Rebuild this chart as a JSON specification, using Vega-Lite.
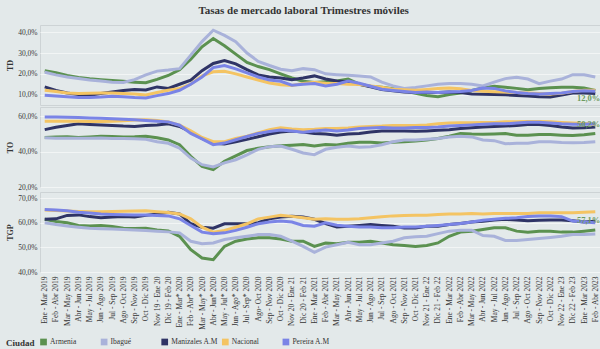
{
"$schema":"https://vega.github.io/schema/vega-lite/v6.json",
"background":"#e3e9ea",
"padding":{"left":5,"top":4,"right":0,"bottom":0},
"title":{"text":"Tasas de mercado laboral Trimestres móviles","font":"Liberation Serif","fontSize":11,"fontWeight":"bold","color":"#333333","anchor":"middle","offset":8},
"datasets":{
"leg":[{"c":"Armenia","g":"Ciudad"},{"c":"Ibagué","g":"Ciudad"},{"c":"Manizales A.M","g":"Ciudad"},{"c":"Nacional","g":"Ciudad"},{"c":"Pereira A.M","g":"Ciudad"}],
"lab":[{"m":"TD","p":"Feb - Abr 2023","v":12.0,"t":"12,0%"},{"m":"TO","p":"Feb - Abr 2023","v":50.2,"t":"50,2%"},{"m":"TGP","p":"Feb - Abr 2023","v":57.1,"t":"57,1%"}],
"d":[
{"m":"TD","c":"Armenia","p":"Ene - Mar 2019","v":21.5},{"m":"TD","c":"Armenia","p":"Feb - Abr 2019","v":20.5},{"m":"TD","c":"Armenia","p":"Mar - May 2019","v":19.2},{"m":"TD","c":"Armenia","p":"Abr - Jun 2019","v":18.2},{"m":"TD","c":"Armenia","p":"May - Jul 2019","v":17.6},{"m":"TD","c":"Armenia","p":"Jun - Ago 2019","v":17.2},{"m":"TD","c":"Armenia","p":"Jul - Sep 2019","v":16.8},{"m":"TD","c":"Armenia","p":"Ago - Oct 2019","v":16.4},{"m":"TD","c":"Armenia","p":"Sep - Nov 2019","v":16.0},{"m":"TD","c":"Armenia","p":"Oct - Dic 2019","v":15.7},
{"m":"TD","c":"Armenia","p":"Nov 19 - Ene 20","v":17.3},{"m":"TD","c":"Armenia","p":"Dic 19 - Feb 20","v":19.2},{"m":"TD","c":"Armenia","p":"Ene - Mar* 2020","v":22.0},{"m":"TD","c":"Armenia","p":"Feb - Abr* 2020","v":27.0},{"m":"TD","c":"Armenia","p":"Mar - May* 2020","v":33.0},{"m":"TD","c":"Armenia","p":"Abr - Jun* 2020","v":37.0},{"m":"TD","c":"Armenia","p":"May - Jul* 2020","v":33.5},{"m":"TD","c":"Armenia","p":"Jun - Ago* 2020","v":29.5},{"m":"TD","c":"Armenia","p":"Jul - Sep* 2020","v":25.5},{"m":"TD","c":"Armenia","p":"Ago- Oct 2020","v":23.5},
{"m":"TD","c":"Armenia","p":"Sep - Nov 2020","v":22.0},{"m":"TD","c":"Armenia","p":"Oct - Dic 2020","v":20.0},{"m":"TD","c":"Armenia","p":"Nov 20 - Ene 21","v":18.0},{"m":"TD","c":"Armenia","p":"Dic 20 - Feb 21","v":16.4},{"m":"TD","c":"Armenia","p":"Ene - Mar 2021","v":15.8},{"m":"TD","c":"Armenia","p":"Feb - Abr 2021","v":16.2},{"m":"TD","c":"Armenia","p":"Mar - May 2021","v":16.6},{"m":"TD","c":"Armenia","p":"Abr - Jun 2021","v":17.5},{"m":"TD","c":"Armenia","p":"May - Jul 2021","v":15.0},{"m":"TD","c":"Armenia","p":"Jun - Ago 2021","v":14.0},
{"m":"TD","c":"Armenia","p":"Jul - Sep 2021","v":13.5},{"m":"TD","c":"Armenia","p":"Ago - Oct 2021","v":12.8},{"m":"TD","c":"Armenia","p":"Sep - Nov 2021","v":11.8},{"m":"TD","c":"Armenia","p":"Oct - Dic 2021","v":10.6},{"m":"TD","c":"Armenia","p":"Nov 21 - Ene 22","v":9.6},{"m":"TD","c":"Armenia","p":"Dic 21 - Feb 22","v":9.0},{"m":"TD","c":"Armenia","p":"Ene - Mar 2022","v":10.0},{"m":"TD","c":"Armenia","p":"Feb - Abr 2022","v":10.8},{"m":"TD","c":"Armenia","p":"Mar - May 2022","v":12.0},{"m":"TD","c":"Armenia","p":"Abr - Jun 2022","v":13.2},
{"m":"TD","c":"Armenia","p":"May - Jul 2022","v":14.0},{"m":"TD","c":"Armenia","p":"Jun - Ago 2022","v":13.5},{"m":"TD","c":"Armenia","p":"Jul - Sep 2022","v":13.0},{"m":"TD","c":"Armenia","p":"Ago - Oct 2022","v":12.3},{"m":"TD","c":"Armenia","p":"Sep - Nov 2022","v":12.9},{"m":"TD","c":"Armenia","p":"Oct - Dic 2022","v":13.3},{"m":"TD","c":"Armenia","p":"Nov 22 - Ene 23","v":13.6},{"m":"TD","c":"Armenia","p":"Dic 22 - Feb 23","v":13.5},{"m":"TD","c":"Armenia","p":"Ene - Mar 2023","v":13.2},{"m":"TD","c":"Armenia","p":"Feb - Abr 2023","v":12.0},
{"m":"TD","c":"Ibagué","p":"Ene - Mar 2019","v":20.8},{"m":"TD","c":"Ibagué","p":"Feb - Abr 2019","v":19.5},{"m":"TD","c":"Ibagué","p":"Mar - May 2019","v":18.5},{"m":"TD","c":"Ibagué","p":"Abr - Jun 2019","v":17.8},{"m":"TD","c":"Ibagué","p":"May - Jul 2019","v":17.0},{"m":"TD","c":"Ibagué","p":"Jun - Ago 2019","v":16.5},{"m":"TD","c":"Ibagué","p":"Jul - Sep 2019","v":16.0},{"m":"TD","c":"Ibagué","p":"Ago - Oct 2019","v":15.8},{"m":"TD","c":"Ibagué","p":"Sep - Nov 2019","v":17.2},{"m":"TD","c":"Ibagué","p":"Oct - Dic 2019","v":19.5},
{"m":"TD","c":"Ibagué","p":"Nov 19 - Ene 20","v":21.3},{"m":"TD","c":"Ibagué","p":"Dic 19 - Feb 20","v":21.8},{"m":"TD","c":"Ibagué","p":"Ene - Mar* 2020","v":22.5},{"m":"TD","c":"Ibagué","p":"Feb - Abr* 2020","v":29.0},{"m":"TD","c":"Ibagué","p":"Mar - May* 2020","v":35.5},{"m":"TD","c":"Ibagué","p":"Abr - Jun* 2020","v":41.0},{"m":"TD","c":"Ibagué","p":"May - Jul* 2020","v":38.5},{"m":"TD","c":"Ibagué","p":"Jun - Ago* 2020","v":35.5},{"m":"TD","c":"Ibagué","p":"Jul - Sep* 2020","v":30.0},{"m":"TD","c":"Ibagué","p":"Ago- Oct 2020","v":26.0},
{"m":"TD","c":"Ibagué","p":"Sep - Nov 2020","v":24.0},{"m":"TD","c":"Ibagué","p":"Oct - Dic 2020","v":22.2},{"m":"TD","c":"Ibagué","p":"Nov 20 - Ene 21","v":21.5},{"m":"TD","c":"Ibagué","p":"Dic 20 - Feb 21","v":22.5},{"m":"TD","c":"Ibagué","p":"Ene - Mar 2021","v":22.0},{"m":"TD","c":"Ibagué","p":"Feb - Abr 2021","v":20.0},{"m":"TD","c":"Ibagué","p":"Mar - May 2021","v":19.6},{"m":"TD","c":"Ibagué","p":"Abr - Jun 2021","v":19.3},{"m":"TD","c":"Ibagué","p":"May - Jul 2021","v":19.0},{"m":"TD","c":"Ibagué","p":"Jun - Ago 2021","v":18.5},
{"m":"TD","c":"Ibagué","p":"Jul - Sep 2021","v":16.0},{"m":"TD","c":"Ibagué","p":"Ago - Oct 2021","v":14.2},{"m":"TD","c":"Ibagué","p":"Sep - Nov 2021","v":13.0},{"m":"TD","c":"Ibagué","p":"Oct - Dic 2021","v":13.4},{"m":"TD","c":"Ibagué","p":"Nov 21 - Ene 22","v":14.2},{"m":"TD","c":"Ibagué","p":"Dic 21 - Feb 22","v":15.0},{"m":"TD","c":"Ibagué","p":"Ene - Mar 2022","v":15.3},{"m":"TD","c":"Ibagué","p":"Feb - Abr 2022","v":15.3},{"m":"TD","c":"Ibagué","p":"Mar - May 2022","v":15.0},{"m":"TD","c":"Ibagué","p":"Abr - Jun 2022","v":14.2},
{"m":"TD","c":"Ibagué","p":"May - Jul 2022","v":16.0},{"m":"TD","c":"Ibagué","p":"Jun - Ago 2022","v":17.7},{"m":"TD","c":"Ibagué","p":"Jul - Sep 2022","v":18.3},{"m":"TD","c":"Ibagué","p":"Ago - Oct 2022","v":17.5},{"m":"TD","c":"Ibagué","p":"Sep - Nov 2022","v":15.3},{"m":"TD","c":"Ibagué","p":"Oct - Dic 2022","v":16.5},{"m":"TD","c":"Ibagué","p":"Nov 22 - Ene 23","v":17.5},{"m":"TD","c":"Ibagué","p":"Dic 22 - Feb 23","v":19.6},{"m":"TD","c":"Ibagué","p":"Ene - Mar 2023","v":19.6},{"m":"TD","c":"Ibagué","p":"Feb - Abr 2023","v":18.5},
{"m":"TD","c":"Manizales A.M","p":"Ene - Mar 2019","v":13.7},{"m":"TD","c":"Manizales A.M","p":"Feb - Abr 2019","v":12.0},{"m":"TD","c":"Manizales A.M","p":"Mar - May 2019","v":10.8},{"m":"TD","c":"Manizales A.M","p":"Abr - Jun 2019","v":10.0},{"m":"TD","c":"Manizales A.M","p":"May - Jul 2019","v":9.7},{"m":"TD","c":"Manizales A.M","p":"Jun - Ago 2019","v":10.5},{"m":"TD","c":"Manizales A.M","p":"Jul - Sep 2019","v":11.3},{"m":"TD","c":"Manizales A.M","p":"Ago - Oct 2019","v":12.0},{"m":"TD","c":"Manizales A.M","p":"Sep - Nov 2019","v":12.5},{"m":"TD","c":"Manizales A.M","p":"Oct - Dic 2019","v":12.2},
{"m":"TD","c":"Manizales A.M","p":"Nov 19 - Ene 20","v":13.7},{"m":"TD","c":"Manizales A.M","p":"Dic 19 - Feb 20","v":13.0},{"m":"TD","c":"Manizales A.M","p":"Ene - Mar* 2020","v":15.0},{"m":"TD","c":"Manizales A.M","p":"Feb - Abr* 2020","v":17.0},{"m":"TD","c":"Manizales A.M","p":"Mar - May* 2020","v":21.5},{"m":"TD","c":"Manizales A.M","p":"Abr - Jun* 2020","v":25.0},{"m":"TD","c":"Manizales A.M","p":"May - Jul* 2020","v":26.4},{"m":"TD","c":"Manizales A.M","p":"Jun - Ago* 2020","v":24.8},{"m":"TD","c":"Manizales A.M","p":"Jul - Sep* 2020","v":22.0},{"m":"TD","c":"Manizales A.M","p":"Ago- Oct 2020","v":19.5},
{"m":"TD","c":"Manizales A.M","p":"Sep - Nov 2020","v":18.5},{"m":"TD","c":"Manizales A.M","p":"Oct - Dic 2020","v":18.0},{"m":"TD","c":"Manizales A.M","p":"Nov 20 - Ene 21","v":17.2},{"m":"TD","c":"Manizales A.M","p":"Dic 20 - Feb 21","v":18.0},{"m":"TD","c":"Manizales A.M","p":"Ene - Mar 2021","v":19.0},{"m":"TD","c":"Manizales A.M","p":"Feb - Abr 2021","v":17.5},{"m":"TD","c":"Manizales A.M","p":"Mar - May 2021","v":16.6},{"m":"TD","c":"Manizales A.M","p":"Abr - Jun 2021","v":16.2},{"m":"TD","c":"Manizales A.M","p":"May - Jul 2021","v":15.0},{"m":"TD","c":"Manizales A.M","p":"Jun - Ago 2021","v":13.8},
{"m":"TD","c":"Manizales A.M","p":"Jul - Sep 2021","v":12.5},{"m":"TD","c":"Manizales A.M","p":"Ago - Oct 2021","v":11.8},{"m":"TD","c":"Manizales A.M","p":"Sep - Nov 2021","v":11.2},{"m":"TD","c":"Manizales A.M","p":"Oct - Dic 2021","v":11.0},{"m":"TD","c":"Manizales A.M","p":"Nov 21 - Ene 22","v":11.0},{"m":"TD","c":"Manizales A.M","p":"Dic 21 - Feb 22","v":11.0},{"m":"TD","c":"Manizales A.M","p":"Ene - Mar 2022","v":11.2},{"m":"TD","c":"Manizales A.M","p":"Feb - Abr 2022","v":11.0},{"m":"TD","c":"Manizales A.M","p":"Mar - May 2022","v":10.3},{"m":"TD","c":"Manizales A.M","p":"Abr - Jun 2022","v":10.2},
{"m":"TD","c":"Manizales A.M","p":"May - Jul 2022","v":10.0},{"m":"TD","c":"Manizales A.M","p":"Jun - Ago 2022","v":9.9},{"m":"TD","c":"Manizales A.M","p":"Jul - Sep 2022","v":9.6},{"m":"TD","c":"Manizales A.M","p":"Ago - Oct 2022","v":9.3},{"m":"TD","c":"Manizales A.M","p":"Sep - Nov 2022","v":9.0},{"m":"TD","c":"Manizales A.M","p":"Oct - Dic 2022","v":8.9},{"m":"TD","c":"Manizales A.M","p":"Nov 22 - Ene 23","v":9.8},{"m":"TD","c":"Manizales A.M","p":"Dic 22 - Feb 23","v":10.8},{"m":"TD","c":"Manizales A.M","p":"Ene - Mar 2023","v":10.8},{"m":"TD","c":"Manizales A.M","p":"Feb - Abr 2023","v":10.5},
{"m":"TD","c":"Nacional","p":"Ene - Mar 2019","v":12.1},{"m":"TD","c":"Nacional","p":"Feb - Abr 2019","v":11.5},{"m":"TD","c":"Nacional","p":"Mar - May 2019","v":10.8},{"m":"TD","c":"Nacional","p":"Abr - Jun 2019","v":10.5},{"m":"TD","c":"Nacional","p":"May - Jul 2019","v":10.6},{"m":"TD","c":"Nacional","p":"Jun - Ago 2019","v":10.8},{"m":"TD","c":"Nacional","p":"Jul - Sep 2019","v":10.8},{"m":"TD","c":"Nacional","p":"Ago - Oct 2019","v":10.5},{"m":"TD","c":"Nacional","p":"Sep - Nov 2019","v":10.3},{"m":"TD","c":"Nacional","p":"Oct - Dic 2019","v":9.8},
{"m":"TD","c":"Nacional","p":"Nov 19 - Ene 20","v":11.0},{"m":"TD","c":"Nacional","p":"Dic 19 - Feb 20","v":12.1},{"m":"TD","c":"Nacional","p":"Ene - Mar* 2020","v":13.0},{"m":"TD","c":"Nacional","p":"Feb - Abr* 2020","v":15.0},{"m":"TD","c":"Nacional","p":"Mar - May* 2020","v":19.0},{"m":"TD","c":"Nacional","p":"Abr - Jun* 2020","v":21.0},{"m":"TD","c":"Nacional","p":"May - Jul* 2020","v":21.2},{"m":"TD","c":"Nacional","p":"Jun - Ago* 2020","v":20.0},{"m":"TD","c":"Nacional","p":"Jul - Sep* 2020","v":18.5},{"m":"TD","c":"Nacional","p":"Ago- Oct 2020","v":17.0},
{"m":"TD","c":"Nacional","p":"Sep - Nov 2020","v":15.6},{"m":"TD","c":"Nacional","p":"Oct - Dic 2020","v":14.8},{"m":"TD","c":"Nacional","p":"Nov 20 - Ene 21","v":14.4},{"m":"TD","c":"Nacional","p":"Dic 20 - Feb 21","v":15.3},{"m":"TD","c":"Nacional","p":"Ene - Mar 2021","v":16.0},{"m":"TD","c":"Nacional","p":"Feb - Abr 2021","v":15.5},{"m":"TD","c":"Nacional","p":"Mar - May 2021","v":15.3},{"m":"TD","c":"Nacional","p":"Abr - Jun 2021","v":15.0},{"m":"TD","c":"Nacional","p":"May - Jul 2021","v":14.9},{"m":"TD","c":"Nacional","p":"Jun - Ago 2021","v":14.2},
{"m":"TD","c":"Nacional","p":"Jul - Sep 2021","v":13.5},{"m":"TD","c":"Nacional","p":"Ago - Oct 2021","v":12.6},{"m":"TD","c":"Nacional","p":"Sep - Nov 2021","v":12.3},{"m":"TD","c":"Nacional","p":"Oct - Dic 2021","v":12.1},{"m":"TD","c":"Nacional","p":"Nov 21 - Ene 22","v":12.5},{"m":"TD","c":"Nacional","p":"Dic 21 - Feb 22","v":13.0},{"m":"TD","c":"Nacional","p":"Ene - Mar 2022","v":13.2},{"m":"TD","c":"Nacional","p":"Feb - Abr 2022","v":12.8},{"m":"TD","c":"Nacional","p":"Mar - May 2022","v":12.0},{"m":"TD","c":"Nacional","p":"Abr - Jun 2022","v":11.6},
{"m":"TD","c":"Nacional","p":"May - Jul 2022","v":11.4},{"m":"TD","c":"Nacional","p":"Jun - Ago 2022","v":11.3},{"m":"TD","c":"Nacional","p":"Jul - Sep 2022","v":11.0},{"m":"TD","c":"Nacional","p":"Ago - Oct 2022","v":10.8},{"m":"TD","c":"Nacional","p":"Sep - Nov 2022","v":10.5},{"m":"TD","c":"Nacional","p":"Oct - Dic 2022","v":10.3},{"m":"TD","c":"Nacional","p":"Nov 22 - Ene 23","v":10.7},{"m":"TD","c":"Nacional","p":"Dic 22 - Feb 23","v":11.5},{"m":"TD","c":"Nacional","p":"Ene - Mar 2023","v":12.1},{"m":"TD","c":"Nacional","p":"Feb - Abr 2023","v":12.1},
{"m":"TD","c":"Pereira A.M","p":"Ene - Mar 2019","v":9.7},{"m":"TD","c":"Pereira A.M","p":"Feb - Abr 2019","v":9.3},{"m":"TD","c":"Pereira A.M","p":"Mar - May 2019","v":9.0},{"m":"TD","c":"Pereira A.M","p":"Abr - Jun 2019","v":8.6},{"m":"TD","c":"Pereira A.M","p":"May - Jul 2019","v":8.6},{"m":"TD","c":"Pereira A.M","p":"Jun - Ago 2019","v":8.8},{"m":"TD","c":"Pereira A.M","p":"Jul - Sep 2019","v":9.2},{"m":"TD","c":"Pereira A.M","p":"Ago - Oct 2019","v":9.0},{"m":"TD","c":"Pereira A.M","p":"Sep - Nov 2019","v":8.6},{"m":"TD","c":"Pereira A.M","p":"Oct - Dic 2019","v":8.4},
{"m":"TD","c":"Pereira A.M","p":"Nov 19 - Ene 20","v":9.5},{"m":"TD","c":"Pereira A.M","p":"Dic 19 - Feb 20","v":10.5},{"m":"TD","c":"Pereira A.M","p":"Ene - Mar* 2020","v":12.1},{"m":"TD","c":"Pereira A.M","p":"Feb - Abr* 2020","v":15.0},{"m":"TD","c":"Pereira A.M","p":"Mar - May* 2020","v":18.5},{"m":"TD","c":"Pereira A.M","p":"Abr - Jun* 2020","v":23.0},{"m":"TD","c":"Pereira A.M","p":"May - Jul* 2020","v":24.0},{"m":"TD","c":"Pereira A.M","p":"Jun - Ago* 2020","v":22.4},{"m":"TD","c":"Pereira A.M","p":"Jul - Sep* 2020","v":20.5},{"m":"TD","c":"Pereira A.M","p":"Ago- Oct 2020","v":18.5},
{"m":"TD","c":"Pereira A.M","p":"Sep - Nov 2020","v":17.0},{"m":"TD","c":"Pereira A.M","p":"Oct - Dic 2020","v":16.4},{"m":"TD","c":"Pereira A.M","p":"Nov 20 - Ene 21","v":14.5},{"m":"TD","c":"Pereira A.M","p":"Dic 20 - Feb 21","v":15.0},{"m":"TD","c":"Pereira A.M","p":"Ene - Mar 2021","v":15.3},{"m":"TD","c":"Pereira A.M","p":"Feb - Abr 2021","v":14.2},{"m":"TD","c":"Pereira A.M","p":"Mar - May 2021","v":15.0},{"m":"TD","c":"Pereira A.M","p":"Abr - Jun 2021","v":16.5},{"m":"TD","c":"Pereira A.M","p":"May - Jul 2021","v":15.5},{"m":"TD","c":"Pereira A.M","p":"Jun - Ago 2021","v":14.0},
{"m":"TD","c":"Pereira A.M","p":"Jul - Sep 2021","v":12.6},{"m":"TD","c":"Pereira A.M","p":"Ago - Oct 2021","v":12.0},{"m":"TD","c":"Pereira A.M","p":"Sep - Nov 2021","v":11.5},{"m":"TD","c":"Pereira A.M","p":"Oct - Dic 2021","v":11.0},{"m":"TD","c":"Pereira A.M","p":"Nov 21 - Ene 22","v":11.2},{"m":"TD","c":"Pereira A.M","p":"Dic 21 - Feb 22","v":11.0},{"m":"TD","c":"Pereira A.M","p":"Ene - Mar 2022","v":11.2},{"m":"TD","c":"Pereira A.M","p":"Feb - Abr 2022","v":11.5},{"m":"TD","c":"Pereira A.M","p":"Mar - May 2022","v":12.0},{"m":"TD","c":"Pereira A.M","p":"Abr - Jun 2022","v":13.2},
{"m":"TD","c":"Pereira A.M","p":"May - Jul 2022","v":13.0},{"m":"TD","c":"Pereira A.M","p":"Jun - Ago 2022","v":11.8},{"m":"TD","c":"Pereira A.M","p":"Jul - Sep 2022","v":11.0},{"m":"TD","c":"Pereira A.M","p":"Ago - Oct 2022","v":10.5},{"m":"TD","c":"Pereira A.M","p":"Sep - Nov 2022","v":10.3},{"m":"TD","c":"Pereira A.M","p":"Oct - Dic 2022","v":10.5},{"m":"TD","c":"Pereira A.M","p":"Nov 22 - Ene 23","v":10.8},{"m":"TD","c":"Pereira A.M","p":"Dic 22 - Feb 23","v":11.5},{"m":"TD","c":"Pereira A.M","p":"Ene - Mar 2023","v":11.8},{"m":"TD","c":"Pereira A.M","p":"Feb - Abr 2023","v":11.6},
{"m":"TO","c":"Armenia","p":"Ene - Mar 2019","v":48.0},{"m":"TO","c":"Armenia","p":"Feb - Abr 2019","v":48.2},{"m":"TO","c":"Armenia","p":"Mar - May 2019","v":48.4},{"m":"TO","c":"Armenia","p":"Abr - Jun 2019","v":48.0},{"m":"TO","c":"Armenia","p":"May - Jul 2019","v":48.3},{"m":"TO","c":"Armenia","p":"Jun - Ago 2019","v":48.7},{"m":"TO","c":"Armenia","p":"Jul - Sep 2019","v":48.5},{"m":"TO","c":"Armenia","p":"Ago - Oct 2019","v":48.3},{"m":"TO","c":"Armenia","p":"Sep - Nov 2019","v":48.4},{"m":"TO","c":"Armenia","p":"Oct - Dic 2019","v":48.7},
{"m":"TO","c":"Armenia","p":"Nov 19 - Ene 20","v":47.8},{"m":"TO","c":"Armenia","p":"Dic 19 - Feb 20","v":46.6},{"m":"TO","c":"Armenia","p":"Ene - Mar* 2020","v":43.9},{"m":"TO","c":"Armenia","p":"Feb - Abr* 2020","v":37.3},{"m":"TO","c":"Armenia","p":"Mar - May* 2020","v":31.7},{"m":"TO","c":"Armenia","p":"Abr - Jun* 2020","v":29.8},{"m":"TO","c":"Armenia","p":"May - Jul* 2020","v":34.5},{"m":"TO","c":"Armenia","p":"Jun - Ago* 2020","v":37.6},{"m":"TO","c":"Armenia","p":"Jul - Sep* 2020","v":40.6},{"m":"TO","c":"Armenia","p":"Ago- Oct 2020","v":41.9},
{"m":"TO","c":"Armenia","p":"Sep - Nov 2020","v":42.8},{"m":"TO","c":"Armenia","p":"Oct - Dic 2020","v":43.3},{"m":"TO","c":"Armenia","p":"Nov 20 - Ene 21","v":43.6},{"m":"TO","c":"Armenia","p":"Dic 20 - Feb 21","v":44.0},{"m":"TO","c":"Armenia","p":"Ene - Mar 2021","v":43.2},{"m":"TO","c":"Armenia","p":"Feb - Abr 2021","v":44.0},{"m":"TO","c":"Armenia","p":"Mar - May 2021","v":43.8},{"m":"TO","c":"Armenia","p":"Abr - Jun 2021","v":44.7},{"m":"TO","c":"Armenia","p":"May - Jul 2021","v":45.3},{"m":"TO","c":"Armenia","p":"Jun - Ago 2021","v":45.3},
{"m":"TO","c":"Armenia","p":"Jul - Sep 2021","v":44.8},{"m":"TO","c":"Armenia","p":"Ago - Oct 2021","v":45.3},{"m":"TO","c":"Armenia","p":"Sep - Nov 2021","v":45.6},{"m":"TO","c":"Armenia","p":"Oct - Dic 2021","v":46.0},{"m":"TO","c":"Armenia","p":"Nov 21 - Ene 22","v":46.6},{"m":"TO","c":"Armenia","p":"Dic 21 - Feb 22","v":47.4},{"m":"TO","c":"Armenia","p":"Ene - Mar 2022","v":48.7},{"m":"TO","c":"Armenia","p":"Feb - Abr 2022","v":50.2},{"m":"TO","c":"Armenia","p":"Mar - May 2022","v":49.9},{"m":"TO","c":"Armenia","p":"Abr - Jun 2022","v":49.8},
{"m":"TO","c":"Armenia","p":"May - Jul 2022","v":50.0},{"m":"TO","c":"Armenia","p":"Jun - Ago 2022","v":50.2},{"m":"TO","c":"Armenia","p":"Jul - Sep 2022","v":49.3},{"m":"TO","c":"Armenia","p":"Ago - Oct 2022","v":49.3},{"m":"TO","c":"Armenia","p":"Sep - Nov 2022","v":49.6},{"m":"TO","c":"Armenia","p":"Oct - Dic 2022","v":49.6},{"m":"TO","c":"Armenia","p":"Nov 22 - Ene 23","v":49.3},{"m":"TO","c":"Armenia","p":"Dic 22 - Feb 23","v":49.1},{"m":"TO","c":"Armenia","p":"Ene - Mar 2023","v":49.5},{"m":"TO","c":"Armenia","p":"Feb - Abr 2023","v":50.2},
{"m":"TO","c":"Ibagué","p":"Ene - Mar 2019","v":47.8},{"m":"TO","c":"Ibagué","p":"Feb - Abr 2019","v":47.6},{"m":"TO","c":"Ibagué","p":"Mar - May 2019","v":47.5},{"m":"TO","c":"Ibagué","p":"Abr - Jun 2019","v":47.5},{"m":"TO","c":"Ibagué","p":"May - Jul 2019","v":47.6},{"m":"TO","c":"Ibagué","p":"Jun - Ago 2019","v":47.7},{"m":"TO","c":"Ibagué","p":"Jul - Sep 2019","v":47.4},{"m":"TO","c":"Ibagué","p":"Ago - Oct 2019","v":47.4},{"m":"TO","c":"Ibagué","p":"Sep - Nov 2019","v":47.2},{"m":"TO","c":"Ibagué","p":"Oct - Dic 2019","v":47.0},
{"m":"TO","c":"Ibagué","p":"Nov 19 - Ene 20","v":45.6},{"m":"TO","c":"Ibagué","p":"Dic 19 - Feb 20","v":44.7},{"m":"TO","c":"Ibagué","p":"Ene - Mar* 2020","v":41.9},{"m":"TO","c":"Ibagué","p":"Feb - Abr* 2020","v":36.3},{"m":"TO","c":"Ibagué","p":"Mar - May* 2020","v":32.6},{"m":"TO","c":"Ibagué","p":"Abr - Jun* 2020","v":31.3},{"m":"TO","c":"Ibagué","p":"May - Jul* 2020","v":33.6},{"m":"TO","c":"Ibagué","p":"Jun - Ago* 2020","v":35.4},{"m":"TO","c":"Ibagué","p":"Jul - Sep* 2020","v":38.2},{"m":"TO","c":"Ibagué","p":"Ago- Oct 2020","v":41.3},
{"m":"TO","c":"Ibagué","p":"Sep - Nov 2020","v":42.8},{"m":"TO","c":"Ibagué","p":"Oct - Dic 2020","v":43.1},{"m":"TO","c":"Ibagué","p":"Nov 20 - Ene 21","v":41.3},{"m":"TO","c":"Ibagué","p":"Dic 20 - Feb 21","v":39.2},{"m":"TO","c":"Ibagué","p":"Ene - Mar 2021","v":38.3},{"m":"TO","c":"Ibagué","p":"Feb - Abr 2021","v":41.3},{"m":"TO","c":"Ibagué","p":"Mar - May 2021","v":42.4},{"m":"TO","c":"Ibagué","p":"Abr - Jun 2021","v":43.2},{"m":"TO","c":"Ibagué","p":"May - Jul 2021","v":42.4},{"m":"TO","c":"Ibagué","p":"Jun - Ago 2021","v":42.8},
{"m":"TO","c":"Ibagué","p":"Jul - Sep 2021","v":43.9},{"m":"TO","c":"Ibagué","p":"Ago - Oct 2021","v":45.6},{"m":"TO","c":"Ibagué","p":"Sep - Nov 2021","v":46.6},{"m":"TO","c":"Ibagué","p":"Oct - Dic 2021","v":46.6},{"m":"TO","c":"Ibagué","p":"Nov 21 - Ene 22","v":47.0},{"m":"TO","c":"Ibagué","p":"Dic 21 - Feb 22","v":47.4},{"m":"TO","c":"Ibagué","p":"Ene - Mar 2022","v":48.3},{"m":"TO","c":"Ibagué","p":"Feb - Abr 2022","v":48.7},{"m":"TO","c":"Ibagué","p":"Mar - May 2022","v":48.3},{"m":"TO","c":"Ibagué","p":"Abr - Jun 2022","v":46.6},
{"m":"TO","c":"Ibagué","p":"May - Jul 2022","v":46.2},{"m":"TO","c":"Ibagué","p":"Jun - Ago 2022","v":44.4},{"m":"TO","c":"Ibagué","p":"Jul - Sep 2022","v":44.7},{"m":"TO","c":"Ibagué","p":"Ago - Oct 2022","v":44.7},{"m":"TO","c":"Ibagué","p":"Sep - Nov 2022","v":45.6},{"m":"TO","c":"Ibagué","p":"Oct - Dic 2022","v":45.6},{"m":"TO","c":"Ibagué","p":"Nov 22 - Ene 23","v":45.2},{"m":"TO","c":"Ibagué","p":"Dic 22 - Feb 23","v":45.0},{"m":"TO","c":"Ibagué","p":"Ene - Mar 2023","v":45.2},{"m":"TO","c":"Ibagué","p":"Feb - Abr 2023","v":45.6},
{"m":"TO","c":"Manizales A.M","p":"Ene - Mar 2019","v":52.4},{"m":"TO","c":"Manizales A.M","p":"Feb - Abr 2019","v":53.8},{"m":"TO","c":"Manizales A.M","p":"Mar - May 2019","v":54.8},{"m":"TO","c":"Manizales A.M","p":"Abr - Jun 2019","v":55.7},{"m":"TO","c":"Manizales A.M","p":"May - Jul 2019","v":55.3},{"m":"TO","c":"Manizales A.M","p":"Jun - Ago 2019","v":55.0},{"m":"TO","c":"Manizales A.M","p":"Jul - Sep 2019","v":54.8},{"m":"TO","c":"Manizales A.M","p":"Ago - Oct 2019","v":54.4},{"m":"TO","c":"Manizales A.M","p":"Sep - Nov 2019","v":54.2},{"m":"TO","c":"Manizales A.M","p":"Oct - Dic 2019","v":54.8},
{"m":"TO","c":"Manizales A.M","p":"Nov 19 - Ene 20","v":55.0},{"m":"TO","c":"Manizales A.M","p":"Dic 19 - Feb 20","v":55.7},{"m":"TO","c":"Manizales A.M","p":"Ene - Mar* 2020","v":54.2},{"m":"TO","c":"Manizales A.M","p":"Feb - Abr* 2020","v":51.1},{"m":"TO","c":"Manizales A.M","p":"Mar - May* 2020","v":47.4},{"m":"TO","c":"Manizales A.M","p":"Abr - Jun* 2020","v":44.7},{"m":"TO","c":"Manizales A.M","p":"May - Jul* 2020","v":44.3},{"m":"TO","c":"Manizales A.M","p":"Jun - Ago* 2020","v":45.6},{"m":"TO","c":"Manizales A.M","p":"Jul - Sep* 2020","v":46.9},{"m":"TO","c":"Manizales A.M","p":"Ago- Oct 2020","v":48.4},
{"m":"TO","c":"Manizales A.M","p":"Sep - Nov 2020","v":49.9},{"m":"TO","c":"Manizales A.M","p":"Oct - Dic 2020","v":51.1},{"m":"TO","c":"Manizales A.M","p":"Nov 20 - Ene 21","v":51.7},{"m":"TO","c":"Manizales A.M","p":"Dic 20 - Feb 21","v":51.1},{"m":"TO","c":"Manizales A.M","p":"Ene - Mar 2021","v":50.2},{"m":"TO","c":"Manizales A.M","p":"Feb - Abr 2021","v":49.9},{"m":"TO","c":"Manizales A.M","p":"Mar - May 2021","v":49.3},{"m":"TO","c":"Manizales A.M","p":"Abr - Jun 2021","v":49.9},{"m":"TO","c":"Manizales A.M","p":"May - Jul 2021","v":50.2},{"m":"TO","c":"Manizales A.M","p":"Jun - Ago 2021","v":51.1},
{"m":"TO","c":"Manizales A.M","p":"Jul - Sep 2021","v":51.6},{"m":"TO","c":"Manizales A.M","p":"Ago - Oct 2021","v":51.6},{"m":"TO","c":"Manizales A.M","p":"Sep - Nov 2021","v":51.7},{"m":"TO","c":"Manizales A.M","p":"Oct - Dic 2021","v":51.5},{"m":"TO","c":"Manizales A.M","p":"Nov 21 - Ene 22","v":51.7},{"m":"TO","c":"Manizales A.M","p":"Dic 21 - Feb 22","v":52.0},{"m":"TO","c":"Manizales A.M","p":"Ene - Mar 2022","v":52.4},{"m":"TO","c":"Manizales A.M","p":"Feb - Abr 2022","v":53.0},{"m":"TO","c":"Manizales A.M","p":"Mar - May 2022","v":53.5},{"m":"TO","c":"Manizales A.M","p":"Abr - Jun 2022","v":53.9},
{"m":"TO","c":"Manizales A.M","p":"May - Jul 2022","v":54.2},{"m":"TO","c":"Manizales A.M","p":"Jun - Ago 2022","v":54.4},{"m":"TO","c":"Manizales A.M","p":"Jul - Sep 2022","v":54.8},{"m":"TO","c":"Manizales A.M","p":"Ago - Oct 2022","v":55.3},{"m":"TO","c":"Manizales A.M","p":"Sep - Nov 2022","v":55.3},{"m":"TO","c":"Manizales A.M","p":"Oct - Dic 2022","v":54.8},{"m":"TO","c":"Manizales A.M","p":"Nov 22 - Ene 23","v":53.9},{"m":"TO","c":"Manizales A.M","p":"Dic 22 - Feb 23","v":53.3},{"m":"TO","c":"Manizales A.M","p":"Ene - Mar 2023","v":53.5},{"m":"TO","c":"Manizales A.M","p":"Feb - Abr 2023","v":53.9},
{"m":"TO","c":"Nacional","p":"Ene - Mar 2019","v":57.1},{"m":"TO","c":"Nacional","p":"Feb - Abr 2019","v":57.1},{"m":"TO","c":"Nacional","p":"Mar - May 2019","v":57.2},{"m":"TO","c":"Nacional","p":"Abr - Jun 2019","v":57.2},{"m":"TO","c":"Nacional","p":"May - Jul 2019","v":57.0},{"m":"TO","c":"Nacional","p":"Jun - Ago 2019","v":57.0},{"m":"TO","c":"Nacional","p":"Jul - Sep 2019","v":57.2},{"m":"TO","c":"Nacional","p":"Ago - Oct 2019","v":57.5},{"m":"TO","c":"Nacional","p":"Sep - Nov 2019","v":57.8},{"m":"TO","c":"Nacional","p":"Oct - Dic 2019","v":58.0},
{"m":"TO","c":"Nacional","p":"Nov 19 - Ene 20","v":57.6},{"m":"TO","c":"Nacional","p":"Dic 19 - Feb 20","v":56.8},{"m":"TO","c":"Nacional","p":"Ene - Mar* 2020","v":55.0},{"m":"TO","c":"Nacional","p":"Feb - Abr* 2020","v":51.8},{"m":"TO","c":"Nacional","p":"Mar - May* 2020","v":48.0},{"m":"TO","c":"Nacional","p":"Abr - Jun* 2020","v":45.6},{"m":"TO","c":"Nacional","p":"May - Jul* 2020","v":45.6},{"m":"TO","c":"Nacional","p":"Jun - Ago* 2020","v":47.4},{"m":"TO","c":"Nacional","p":"Jul - Sep* 2020","v":48.7},{"m":"TO","c":"Nacional","p":"Ago- Oct 2020","v":50.6},
{"m":"TO","c":"Nacional","p":"Sep - Nov 2020","v":52.4},{"m":"TO","c":"Nacional","p":"Oct - Dic 2020","v":53.5},{"m":"TO","c":"Nacional","p":"Nov 20 - Ene 21","v":52.8},{"m":"TO","c":"Nacional","p":"Dic 20 - Feb 21","v":52.4},{"m":"TO","c":"Nacional","p":"Ene - Mar 2021","v":52.6},{"m":"TO","c":"Nacional","p":"Feb - Abr 2021","v":53.0},{"m":"TO","c":"Nacional","p":"Mar - May 2021","v":53.0},{"m":"TO","c":"Nacional","p":"Abr - Jun 2021","v":53.3},{"m":"TO","c":"Nacional","p":"May - Jul 2021","v":53.9},{"m":"TO","c":"Nacional","p":"Jun - Ago 2021","v":54.2},
{"m":"TO","c":"Nacional","p":"Jul - Sep 2021","v":54.4},{"m":"TO","c":"Nacional","p":"Ago - Oct 2021","v":54.8},{"m":"TO","c":"Nacional","p":"Sep - Nov 2021","v":54.8},{"m":"TO","c":"Nacional","p":"Oct - Dic 2021","v":54.8},{"m":"TO","c":"Nacional","p":"Nov 21 - Ene 22","v":55.1},{"m":"TO","c":"Nacional","p":"Dic 21 - Feb 22","v":55.7},{"m":"TO","c":"Nacional","p":"Ene - Mar 2022","v":56.1},{"m":"TO","c":"Nacional","p":"Feb - Abr 2022","v":56.3},{"m":"TO","c":"Nacional","p":"Mar - May 2022","v":56.3},{"m":"TO","c":"Nacional","p":"Abr - Jun 2022","v":56.4},
{"m":"TO","c":"Nacional","p":"May - Jul 2022","v":56.4},{"m":"TO","c":"Nacional","p":"Jun - Ago 2022","v":56.8},{"m":"TO","c":"Nacional","p":"Jul - Sep 2022","v":56.8},{"m":"TO","c":"Nacional","p":"Ago - Oct 2022","v":57.0},{"m":"TO","c":"Nacional","p":"Sep - Nov 2022","v":57.0},{"m":"TO","c":"Nacional","p":"Oct - Dic 2022","v":56.8},{"m":"TO","c":"Nacional","p":"Nov 22 - Ene 23","v":56.4},{"m":"TO","c":"Nacional","p":"Dic 22 - Feb 23","v":56.1},{"m":"TO","c":"Nacional","p":"Ene - Mar 2023","v":55.9},{"m":"TO","c":"Nacional","p":"Feb - Abr 2023","v":55.4},
{"m":"TO","c":"Pereira A.M","p":"Ene - Mar 2019","v":59.5},{"m":"TO","c":"Pereira A.M","p":"Feb - Abr 2019","v":59.5},{"m":"TO","c":"Pereira A.M","p":"Mar - May 2019","v":59.4},{"m":"TO","c":"Pereira A.M","p":"Abr - Jun 2019","v":59.2},{"m":"TO","c":"Pereira A.M","p":"May - Jul 2019","v":59.0},{"m":"TO","c":"Pereira A.M","p":"Jun - Ago 2019","v":58.8},{"m":"TO","c":"Pereira A.M","p":"Jul - Sep 2019","v":58.6},{"m":"TO","c":"Pereira A.M","p":"Ago - Oct 2019","v":58.3},{"m":"TO","c":"Pereira A.M","p":"Sep - Nov 2019","v":58.0},{"m":"TO","c":"Pereira A.M","p":"Oct - Dic 2019","v":57.6},
{"m":"TO","c":"Pereira A.M","p":"Nov 19 - Ene 20","v":57.2},{"m":"TO","c":"Pereira A.M","p":"Dic 19 - Feb 20","v":56.8},{"m":"TO","c":"Pereira A.M","p":"Ene - Mar* 2020","v":54.9},{"m":"TO","c":"Pereira A.M","p":"Feb - Abr* 2020","v":50.3},{"m":"TO","c":"Pereira A.M","p":"Mar - May* 2020","v":47.2},{"m":"TO","c":"Pereira A.M","p":"Abr - Jun* 2020","v":43.9},{"m":"TO","c":"Pereira A.M","p":"May - Jul* 2020","v":44.8},{"m":"TO","c":"Pereira A.M","p":"Jun - Ago* 2020","v":46.7},{"m":"TO","c":"Pereira A.M","p":"Jul - Sep* 2020","v":48.5},{"m":"TO","c":"Pereira A.M","p":"Ago- Oct 2020","v":50.3},
{"m":"TO","c":"Pereira A.M","p":"Sep - Nov 2020","v":51.3},{"m":"TO","c":"Pereira A.M","p":"Oct - Dic 2020","v":52.2},{"m":"TO","c":"Pereira A.M","p":"Nov 20 - Ene 21","v":51.6},{"m":"TO","c":"Pereira A.M","p":"Dic 20 - Feb 21","v":50.9},{"m":"TO","c":"Pereira A.M","p":"Ene - Mar 2021","v":51.6},{"m":"TO","c":"Pereira A.M","p":"Feb - Abr 2021","v":52.2},{"m":"TO","c":"Pereira A.M","p":"Mar - May 2021","v":51.6},{"m":"TO","c":"Pereira A.M","p":"Abr - Jun 2021","v":52.2},{"m":"TO","c":"Pereira A.M","p":"May - Jul 2021","v":53.0},{"m":"TO","c":"Pereira A.M","p":"Jun - Ago 2021","v":53.4},
{"m":"TO","c":"Pereira A.M","p":"Jul - Sep 2021","v":53.6},{"m":"TO","c":"Pereira A.M","p":"Ago - Oct 2021","v":53.4},{"m":"TO","c":"Pereira A.M","p":"Sep - Nov 2021","v":53.4},{"m":"TO","c":"Pereira A.M","p":"Oct - Dic 2021","v":53.6},{"m":"TO","c":"Pereira A.M","p":"Nov 21 - Ene 22","v":53.6},{"m":"TO","c":"Pereira A.M","p":"Dic 21 - Feb 22","v":53.9},{"m":"TO","c":"Pereira A.M","p":"Ene - Mar 2022","v":54.4},{"m":"TO","c":"Pereira A.M","p":"Feb - Abr 2022","v":54.8},{"m":"TO","c":"Pereira A.M","p":"Mar - May 2022","v":55.1},{"m":"TO","c":"Pereira A.M","p":"Abr - Jun 2022","v":55.5},
{"m":"TO","c":"Pereira A.M","p":"May - Jul 2022","v":55.7},{"m":"TO","c":"Pereira A.M","p":"Jun - Ago 2022","v":55.7},{"m":"TO","c":"Pereira A.M","p":"Jul - Sep 2022","v":56.1},{"m":"TO","c":"Pereira A.M","p":"Ago - Oct 2022","v":56.6},{"m":"TO","c":"Pereira A.M","p":"Sep - Nov 2022","v":56.6},{"m":"TO","c":"Pereira A.M","p":"Oct - Dic 2022","v":56.2},{"m":"TO","c":"Pereira A.M","p":"Nov 22 - Ene 23","v":55.7},{"m":"TO","c":"Pereira A.M","p":"Dic 22 - Feb 23","v":55.4},{"m":"TO","c":"Pereira A.M","p":"Ene - Mar 2023","v":55.4},{"m":"TO","c":"Pereira A.M","p":"Feb - Abr 2023","v":55.7},
{"m":"TGP","c":"Armenia","p":"Ene - Mar 2019","v":61.4},{"m":"TGP","c":"Armenia","p":"Feb - Abr 2019","v":60.5},{"m":"TGP","c":"Armenia","p":"Mar - May 2019","v":60.0},{"m":"TGP","c":"Armenia","p":"Abr - Jun 2019","v":58.9},{"m":"TGP","c":"Armenia","p":"May - Jul 2019","v":58.7},{"m":"TGP","c":"Armenia","p":"Jun - Ago 2019","v":58.9},{"m":"TGP","c":"Armenia","p":"Jul - Sep 2019","v":58.5},{"m":"TGP","c":"Armenia","p":"Ago - Oct 2019","v":57.8},{"m":"TGP","c":"Armenia","p":"Sep - Nov 2019","v":57.7},{"m":"TGP","c":"Armenia","p":"Oct - Dic 2019","v":57.8},
{"m":"TGP","c":"Armenia","p":"Nov 19 - Ene 20","v":57.1},{"m":"TGP","c":"Armenia","p":"Dic 19 - Feb 20","v":56.7},{"m":"TGP","c":"Armenia","p":"Ene - Mar* 2020","v":54.5},{"m":"TGP","c":"Armenia","p":"Feb - Abr* 2020","v":49.1},{"m":"TGP","c":"Armenia","p":"Mar - May* 2020","v":45.7},{"m":"TGP","c":"Armenia","p":"Abr - Jun* 2020","v":45.0},{"m":"TGP","c":"Armenia","p":"May - Jul* 2020","v":50.4},{"m":"TGP","c":"Armenia","p":"Jun - Ago* 2020","v":52.5},{"m":"TGP","c":"Armenia","p":"Jul - Sep* 2020","v":53.4},{"m":"TGP","c":"Armenia","p":"Ago- Oct 2020","v":53.9},
{"m":"TGP","c":"Armenia","p":"Sep - Nov 2020","v":53.9},{"m":"TGP","c":"Armenia","p":"Oct - Dic 2020","v":53.4},{"m":"TGP","c":"Armenia","p":"Nov 20 - Ene 21","v":52.5},{"m":"TGP","c":"Armenia","p":"Dic 20 - Feb 21","v":52.5},{"m":"TGP","c":"Armenia","p":"Ene - Mar 2021","v":50.4},{"m":"TGP","c":"Armenia","p":"Feb - Abr 2021","v":51.8},{"m":"TGP","c":"Armenia","p":"Mar - May 2021","v":51.5},{"m":"TGP","c":"Armenia","p":"Abr - Jun 2021","v":52.1},{"m":"TGP","c":"Armenia","p":"May - Jul 2021","v":52.1},{"m":"TGP","c":"Armenia","p":"Jun - Ago 2021","v":52.5},
{"m":"TGP","c":"Armenia","p":"Jul - Sep 2021","v":51.8},{"m":"TGP","c":"Armenia","p":"Ago - Oct 2021","v":51.1},{"m":"TGP","c":"Armenia","p":"Sep - Nov 2021","v":50.8},{"m":"TGP","c":"Armenia","p":"Oct - Dic 2021","v":50.4},{"m":"TGP","c":"Armenia","p":"Nov 21 - Ene 22","v":50.8},{"m":"TGP","c":"Armenia","p":"Dic 21 - Feb 22","v":51.8},{"m":"TGP","c":"Armenia","p":"Ene - Mar 2022","v":54.5},{"m":"TGP","c":"Armenia","p":"Feb - Abr 2022","v":56.2},{"m":"TGP","c":"Armenia","p":"Mar - May 2022","v":56.6},{"m":"TGP","c":"Armenia","p":"Abr - Jun 2022","v":57.3},
{"m":"TGP","c":"Armenia","p":"May - Jul 2022","v":58.0},{"m":"TGP","c":"Armenia","p":"Jun - Ago 2022","v":58.0},{"m":"TGP","c":"Armenia","p":"Jul - Sep 2022","v":56.6},{"m":"TGP","c":"Armenia","p":"Ago - Oct 2022","v":56.2},{"m":"TGP","c":"Armenia","p":"Sep - Nov 2022","v":56.6},{"m":"TGP","c":"Armenia","p":"Oct - Dic 2022","v":56.6},{"m":"TGP","c":"Armenia","p":"Nov 22 - Ene 23","v":56.2},{"m":"TGP","c":"Armenia","p":"Dic 22 - Feb 23","v":56.2},{"m":"TGP","c":"Armenia","p":"Ene - Mar 2023","v":56.6},{"m":"TGP","c":"Armenia","p":"Feb - Abr 2023","v":57.1},
{"m":"TGP","c":"Ibagué","p":"Ene - Mar 2019","v":60.0},{"m":"TGP","c":"Ibagué","p":"Feb - Abr 2019","v":59.3},{"m":"TGP","c":"Ibagué","p":"Mar - May 2019","v":58.7},{"m":"TGP","c":"Ibagué","p":"Abr - Jun 2019","v":58.2},{"m":"TGP","c":"Ibagué","p":"May - Jul 2019","v":57.8},{"m":"TGP","c":"Ibagué","p":"Jun - Ago 2019","v":57.6},{"m":"TGP","c":"Ibagué","p":"Jul - Sep 2019","v":57.5},{"m":"TGP","c":"Ibagué","p":"Ago - Oct 2019","v":57.3},{"m":"TGP","c":"Ibagué","p":"Sep - Nov 2019","v":57.1},{"m":"TGP","c":"Ibagué","p":"Oct - Dic 2019","v":56.9},
{"m":"TGP","c":"Ibagué","p":"Nov 19 - Ene 20","v":56.6},{"m":"TGP","c":"Ibagué","p":"Dic 19 - Feb 20","v":56.3},{"m":"TGP","c":"Ibagué","p":"Ene - Mar* 2020","v":55.9},{"m":"TGP","c":"Ibagué","p":"Feb - Abr* 2020","v":52.5},{"m":"TGP","c":"Ibagué","p":"Mar - May* 2020","v":51.5},{"m":"TGP","c":"Ibagué","p":"Abr - Jun* 2020","v":51.8},{"m":"TGP","c":"Ibagué","p":"May - Jul* 2020","v":53.2},{"m":"TGP","c":"Ibagué","p":"Jun - Ago* 2020","v":53.9},{"m":"TGP","c":"Ibagué","p":"Jul - Sep* 2020","v":54.5},{"m":"TGP","c":"Ibagué","p":"Ago- Oct 2020","v":55.2},
{"m":"TGP","c":"Ibagué","p":"Sep - Nov 2020","v":55.2},{"m":"TGP","c":"Ibagué","p":"Oct - Dic 2020","v":54.5},{"m":"TGP","c":"Ibagué","p":"Nov 20 - Ene 21","v":52.5},{"m":"TGP","c":"Ibagué","p":"Dic 20 - Feb 21","v":50.4},{"m":"TGP","c":"Ibagué","p":"Ene - Mar 2021","v":48.0},{"m":"TGP","c":"Ibagué","p":"Feb - Abr 2021","v":50.1},{"m":"TGP","c":"Ibagué","p":"Mar - May 2021","v":51.1},{"m":"TGP","c":"Ibagué","p":"Abr - Jun 2021","v":52.1},{"m":"TGP","c":"Ibagué","p":"May - Jul 2021","v":51.1},{"m":"TGP","c":"Ibagué","p":"Jun - Ago 2021","v":51.1},
{"m":"TGP","c":"Ibagué","p":"Jul - Sep 2021","v":51.8},{"m":"TGP","c":"Ibagué","p":"Ago - Oct 2021","v":52.5},{"m":"TGP","c":"Ibagué","p":"Sep - Nov 2021","v":53.9},{"m":"TGP","c":"Ibagué","p":"Oct - Dic 2021","v":54.3},{"m":"TGP","c":"Ibagué","p":"Nov 21 - Ene 22","v":54.5},{"m":"TGP","c":"Ibagué","p":"Dic 21 - Feb 22","v":55.6},{"m":"TGP","c":"Ibagué","p":"Ene - Mar 2022","v":56.6},{"m":"TGP","c":"Ibagué","p":"Feb - Abr 2022","v":57.0},{"m":"TGP","c":"Ibagué","p":"Mar - May 2022","v":57.0},{"m":"TGP","c":"Ibagué","p":"Abr - Jun 2022","v":54.8},
{"m":"TGP","c":"Ibagué","p":"May - Jul 2022","v":54.5},{"m":"TGP","c":"Ibagué","p":"Jun - Ago 2022","v":52.8},{"m":"TGP","c":"Ibagué","p":"Jul - Sep 2022","v":52.8},{"m":"TGP","c":"Ibagué","p":"Ago - Oct 2022","v":53.2},{"m":"TGP","c":"Ibagué","p":"Sep - Nov 2022","v":53.6},{"m":"TGP","c":"Ibagué","p":"Oct - Dic 2022","v":54.0},{"m":"TGP","c":"Ibagué","p":"Nov 22 - Ene 23","v":54.5},{"m":"TGP","c":"Ibagué","p":"Dic 22 - Feb 23","v":55.2},{"m":"TGP","c":"Ibagué","p":"Ene - Mar 2023","v":55.2},{"m":"TGP","c":"Ibagué","p":"Feb - Abr 2023","v":55.4},
{"m":"TGP","c":"Manizales A.M","p":"Ene - Mar 2019","v":61.4},{"m":"TGP","c":"Manizales A.M","p":"Feb - Abr 2019","v":61.6},{"m":"TGP","c":"Manizales A.M","p":"Mar - May 2019","v":63.0},{"m":"TGP","c":"Manizales A.M","p":"Abr - Jun 2019","v":63.2},{"m":"TGP","c":"Manizales A.M","p":"May - Jul 2019","v":62.5},{"m":"TGP","c":"Manizales A.M","p":"Jun - Ago 2019","v":62.0},{"m":"TGP","c":"Manizales A.M","p":"Jul - Sep 2019","v":62.3},{"m":"TGP","c":"Manizales A.M","p":"Ago - Oct 2019","v":62.5},{"m":"TGP","c":"Manizales A.M","p":"Sep - Nov 2019","v":62.3},{"m":"TGP","c":"Manizales A.M","p":"Oct - Dic 2019","v":63.0},
{"m":"TGP","c":"Manizales A.M","p":"Nov 19 - Ene 20","v":63.6},{"m":"TGP","c":"Manizales A.M","p":"Dic 19 - Feb 20","v":64.3},{"m":"TGP","c":"Manizales A.M","p":"Ene - Mar* 2020","v":63.6},{"m":"TGP","c":"Manizales A.M","p":"Feb - Abr* 2020","v":59.6},{"m":"TGP","c":"Manizales A.M","p":"Mar - May* 2020","v":58.2},{"m":"TGP","c":"Manizales A.M","p":"Abr - Jun* 2020","v":57.8},{"m":"TGP","c":"Manizales A.M","p":"May - Jul* 2020","v":59.6},{"m":"TGP","c":"Manizales A.M","p":"Jun - Ago* 2020","v":59.6},{"m":"TGP","c":"Manizales A.M","p":"Jul - Sep* 2020","v":59.6},{"m":"TGP","c":"Manizales A.M","p":"Ago- Oct 2020","v":60.0},
{"m":"TGP","c":"Manizales A.M","p":"Sep - Nov 2020","v":61.6},{"m":"TGP","c":"Manizales A.M","p":"Oct - Dic 2020","v":62.3},{"m":"TGP","c":"Manizales A.M","p":"Nov 20 - Ene 21","v":62.6},{"m":"TGP","c":"Manizales A.M","p":"Dic 20 - Feb 21","v":62.3},{"m":"TGP","c":"Manizales A.M","p":"Ene - Mar 2021","v":61.4},{"m":"TGP","c":"Manizales A.M","p":"Feb - Abr 2021","v":59.7},{"m":"TGP","c":"Manizales A.M","p":"Mar - May 2021","v":58.3},{"m":"TGP","c":"Manizales A.M","p":"Abr - Jun 2021","v":58.6},{"m":"TGP","c":"Manizales A.M","p":"May - Jul 2021","v":58.9},{"m":"TGP","c":"Manizales A.M","p":"Jun - Ago 2021","v":59.3},
{"m":"TGP","c":"Manizales A.M","p":"Jul - Sep 2021","v":58.9},{"m":"TGP","c":"Manizales A.M","p":"Ago - Oct 2021","v":58.6},{"m":"TGP","c":"Manizales A.M","p":"Sep - Nov 2021","v":57.9},{"m":"TGP","c":"Manizales A.M","p":"Oct - Dic 2021","v":57.9},{"m":"TGP","c":"Manizales A.M","p":"Nov 21 - Ene 22","v":58.6},{"m":"TGP","c":"Manizales A.M","p":"Dic 21 - Feb 22","v":58.6},{"m":"TGP","c":"Manizales A.M","p":"Ene - Mar 2022","v":59.3},{"m":"TGP","c":"Manizales A.M","p":"Feb - Abr 2022","v":59.7},{"m":"TGP","c":"Manizales A.M","p":"Mar - May 2022","v":60.3},{"m":"TGP","c":"Manizales A.M","p":"Abr - Jun 2022","v":60.6},
{"m":"TGP","c":"Manizales A.M","p":"May - Jul 2022","v":61.1},{"m":"TGP","c":"Manizales A.M","p":"Jun - Ago 2022","v":61.4},{"m":"TGP","c":"Manizales A.M","p":"Jul - Sep 2022","v":61.1},{"m":"TGP","c":"Manizales A.M","p":"Ago - Oct 2022","v":60.8},{"m":"TGP","c":"Manizales A.M","p":"Sep - Nov 2022","v":61.0},{"m":"TGP","c":"Manizales A.M","p":"Oct - Dic 2022","v":61.1},{"m":"TGP","c":"Manizales A.M","p":"Nov 22 - Ene 23","v":61.1},{"m":"TGP","c":"Manizales A.M","p":"Dic 22 - Feb 23","v":60.8},{"m":"TGP","c":"Manizales A.M","p":"Ene - Mar 2023","v":60.3},{"m":"TGP","c":"Manizales A.M","p":"Feb - Abr 2023","v":60.6},
{"m":"TGP","c":"Nacional","p":"Ene - Mar 2019","v":65.2},{"m":"TGP","c":"Nacional","p":"Feb - Abr 2019","v":65.0},{"m":"TGP","c":"Nacional","p":"Mar - May 2019","v":64.8},{"m":"TGP","c":"Nacional","p":"Abr - Jun 2019","v":64.6},{"m":"TGP","c":"Nacional","p":"May - Jul 2019","v":64.5},{"m":"TGP","c":"Nacional","p":"Jun - Ago 2019","v":64.5},{"m":"TGP","c":"Nacional","p":"Jul - Sep 2019","v":64.6},{"m":"TGP","c":"Nacional","p":"Ago - Oct 2019","v":64.7},{"m":"TGP","c":"Nacional","p":"Sep - Nov 2019","v":64.8},{"m":"TGP","c":"Nacional","p":"Oct - Dic 2019","v":64.9},
{"m":"TGP","c":"Nacional","p":"Nov 19 - Ene 20","v":64.5},{"m":"TGP","c":"Nacional","p":"Dic 19 - Feb 20","v":64.2},{"m":"TGP","c":"Nacional","p":"Ene - Mar* 2020","v":63.6},{"m":"TGP","c":"Nacional","p":"Feb - Abr* 2020","v":61.6},{"m":"TGP","c":"Nacional","p":"Mar - May* 2020","v":58.2},{"m":"TGP","c":"Nacional","p":"Abr - Jun* 2020","v":56.2},{"m":"TGP","c":"Nacional","p":"May - Jul* 2020","v":56.9},{"m":"TGP","c":"Nacional","p":"Jun - Ago* 2020","v":58.2},{"m":"TGP","c":"Nacional","p":"Jul - Sep* 2020","v":59.6},{"m":"TGP","c":"Nacional","p":"Ago- Oct 2020","v":61.6},
{"m":"TGP","c":"Nacional","p":"Sep - Nov 2020","v":62.3},{"m":"TGP","c":"Nacional","p":"Oct - Dic 2020","v":63.0},{"m":"TGP","c":"Nacional","p":"Nov 20 - Ene 21","v":62.6},{"m":"TGP","c":"Nacional","p":"Dic 20 - Feb 21","v":62.0},{"m":"TGP","c":"Nacional","p":"Ene - Mar 2021","v":61.4},{"m":"TGP","c":"Nacional","p":"Feb - Abr 2021","v":61.6},{"m":"TGP","c":"Nacional","p":"Mar - May 2021","v":61.4},{"m":"TGP","c":"Nacional","p":"Abr - Jun 2021","v":61.4},{"m":"TGP","c":"Nacional","p":"May - Jul 2021","v":61.6},{"m":"TGP","c":"Nacional","p":"Jun - Ago 2021","v":62.0},
{"m":"TGP","c":"Nacional","p":"Jul - Sep 2021","v":62.4},{"m":"TGP","c":"Nacional","p":"Ago - Oct 2021","v":62.8},{"m":"TGP","c":"Nacional","p":"Sep - Nov 2021","v":63.0},{"m":"TGP","c":"Nacional","p":"Oct - Dic 2021","v":63.1},{"m":"TGP","c":"Nacional","p":"Nov 21 - Ene 22","v":63.1},{"m":"TGP","c":"Nacional","p":"Dic 21 - Feb 22","v":63.4},{"m":"TGP","c":"Nacional","p":"Ene - Mar 2022","v":63.6},{"m":"TGP","c":"Nacional","p":"Feb - Abr 2022","v":63.6},{"m":"TGP","c":"Nacional","p":"Mar - May 2022","v":63.8},{"m":"TGP","c":"Nacional","p":"Abr - Jun 2022","v":63.6},
{"m":"TGP","c":"Nacional","p":"May - Jul 2022","v":63.8},{"m":"TGP","c":"Nacional","p":"Jun - Ago 2022","v":63.8},{"m":"TGP","c":"Nacional","p":"Jul - Sep 2022","v":63.8},{"m":"TGP","c":"Nacional","p":"Ago - Oct 2022","v":63.8},{"m":"TGP","c":"Nacional","p":"Sep - Nov 2022","v":64.1},{"m":"TGP","c":"Nacional","p":"Oct - Dic 2022","v":64.1},{"m":"TGP","c":"Nacional","p":"Nov 22 - Ene 23","v":64.1},{"m":"TGP","c":"Nacional","p":"Dic 22 - Feb 23","v":64.1},{"m":"TGP","c":"Nacional","p":"Ene - Mar 2023","v":64.3},{"m":"TGP","c":"Nacional","p":"Feb - Abr 2023","v":64.5},
{"m":"TGP","c":"Pereira A.M","p":"Ene - Mar 2019","v":65.4},{"m":"TGP","c":"Pereira A.M","p":"Feb - Abr 2019","v":65.2},{"m":"TGP","c":"Pereira A.M","p":"Mar - May 2019","v":64.9},{"m":"TGP","c":"Pereira A.M","p":"Abr - Jun 2019","v":64.3},{"m":"TGP","c":"Pereira A.M","p":"May - Jul 2019","v":64.0},{"m":"TGP","c":"Pereira A.M","p":"Jun - Ago 2019","v":63.6},{"m":"TGP","c":"Pereira A.M","p":"Jul - Sep 2019","v":63.4},{"m":"TGP","c":"Pereira A.M","p":"Ago - Oct 2019","v":63.3},{"m":"TGP","c":"Pereira A.M","p":"Sep - Nov 2019","v":63.2},{"m":"TGP","c":"Pereira A.M","p":"Oct - Dic 2019","v":63.2},
{"m":"TGP","c":"Pereira A.M","p":"Nov 19 - Ene 20","v":63.0},{"m":"TGP","c":"Pereira A.M","p":"Dic 19 - Feb 20","v":62.8},{"m":"TGP","c":"Pereira A.M","p":"Ene - Mar* 2020","v":61.6},{"m":"TGP","c":"Pereira A.M","p":"Feb - Abr* 2020","v":58.9},{"m":"TGP","c":"Pereira A.M","p":"Mar - May* 2020","v":56.2},{"m":"TGP","c":"Pereira A.M","p":"Abr - Jun* 2020","v":55.5},{"m":"TGP","c":"Pereira A.M","p":"May - Jul* 2020","v":55.9},{"m":"TGP","c":"Pereira A.M","p":"Jun - Ago* 2020","v":56.9},{"m":"TGP","c":"Pereira A.M","p":"Jul - Sep* 2020","v":58.2},{"m":"TGP","c":"Pereira A.M","p":"Ago- Oct 2020","v":59.6},
{"m":"TGP","c":"Pereira A.M","p":"Sep - Nov 2020","v":60.3},{"m":"TGP","c":"Pereira A.M","p":"Oct - Dic 2020","v":60.7},{"m":"TGP","c":"Pereira A.M","p":"Nov 20 - Ene 21","v":60.3},{"m":"TGP","c":"Pereira A.M","p":"Dic 20 - Feb 21","v":58.9},{"m":"TGP","c":"Pereira A.M","p":"Ene - Mar 2021","v":58.6},{"m":"TGP","c":"Pereira A.M","p":"Feb - Abr 2021","v":60.0},{"m":"TGP","c":"Pereira A.M","p":"Mar - May 2021","v":59.0},{"m":"TGP","c":"Pereira A.M","p":"Abr - Jun 2021","v":58.6},{"m":"TGP","c":"Pereira A.M","p":"May - Jul 2021","v":58.3},{"m":"TGP","c":"Pereira A.M","p":"Jun - Ago 2021","v":58.3},
{"m":"TGP","c":"Pereira A.M","p":"Jul - Sep 2021","v":58.0},{"m":"TGP","c":"Pereira A.M","p":"Ago - Oct 2021","v":58.0},{"m":"TGP","c":"Pereira A.M","p":"Sep - Nov 2021","v":58.3},{"m":"TGP","c":"Pereira A.M","p":"Oct - Dic 2021","v":58.3},{"m":"TGP","c":"Pereira A.M","p":"Nov 21 - Ene 22","v":58.6},{"m":"TGP","c":"Pereira A.M","p":"Dic 21 - Feb 22","v":58.9},{"m":"TGP","c":"Pereira A.M","p":"Ene - Mar 2022","v":59.3},{"m":"TGP","c":"Pereira A.M","p":"Feb - Abr 2022","v":59.7},{"m":"TGP","c":"Pereira A.M","p":"Mar - May 2022","v":60.3},{"m":"TGP","c":"Pereira A.M","p":"Abr - Jun 2022","v":61.0},
{"m":"TGP","c":"Pereira A.M","p":"May - Jul 2022","v":61.4},{"m":"TGP","c":"Pereira A.M","p":"Jun - Ago 2022","v":61.8},{"m":"TGP","c":"Pereira A.M","p":"Jul - Sep 2022","v":62.0},{"m":"TGP","c":"Pereira A.M","p":"Ago - Oct 2022","v":62.5},{"m":"TGP","c":"Pereira A.M","p":"Sep - Nov 2022","v":62.7},{"m":"TGP","c":"Pereira A.M","p":"Oct - Dic 2022","v":62.7},{"m":"TGP","c":"Pereira A.M","p":"Nov 22 - Ene 23","v":62.5},{"m":"TGP","c":"Pereira A.M","p":"Dic 22 - Feb 23","v":60.7},{"m":"TGP","c":"Pereira A.M","p":"Ene - Mar 2023","v":60.3},{"m":"TGP","c":"Pereira A.M","p":"Feb - Abr 2023","v":60.0}
]},
"vconcat":[
{"width":560,"height":80,"layer":[
{"data":{"name":"d"},"transform":[{"filter":"datum.m === 'TD'"}],"mark":{"type":"line","strokeWidth":3,"order":false},
"encoding":{"x":{"field":"p","type":"ordinal","sort":null,"scale":{"type":"point","padding":0.42},"axis":null},
"y":{"field":"v","type":"quantitative","scale":{"domain":[5,43.5],"nice":false,"zero":false},"axis":{"values":[10,20,30,40],"tickCount":10,"title":"TD","labelExpr":"replace(format(datum.value,'.1f'),'.',',')+'%'"}},
"color":{"field":"c","type":"nominal","scale":{"domain":["Armenia","Ibagué","Manizales A.M","Nacional","Pereira A.M"],"range":["#5b9150","#a9b2da","#2f3466","#f4c463","#7a84e6"]},"legend":null}}},
{"data":{"name":"lab"},"transform":[{"filter":"datum.m === 'TD'"}],"mark":{"type":"text","font":"Liberation Serif","fontSize":8.5,"fontWeight":"bold","color":"#6c9a5e","align":"right","dx":5,"dy":8},
"encoding":{"x":{"field":"p","type":"ordinal","sort":null},"y":{"field":"v","type":"quantitative"},"text":{"field":"t"}}}
]},
{"width":560,"height":80,"layer":[
{"data":{"name":"d"},"transform":[{"filter":"datum.m === 'TO'"}],"mark":{"type":"line","strokeWidth":3,"order":false},
"encoding":{"x":{"field":"p","type":"ordinal","sort":null,"scale":{"type":"point","padding":0.42},"axis":null},
"y":{"field":"v","type":"quantitative","scale":{"domain":[20,65.2],"nice":false,"zero":false},"axis":{"values":[20,40,60],"tickCount":10,"title":"TO","labelExpr":"replace(format(datum.value,'.1f'),'.',',')+'%'","encode":{"labels":{"update":{"baseline":{"signal":"datum.value === 20 ? 'bottom' : 'middle'"}}}}}},
"color":{"field":"c","type":"nominal","scale":{"domain":["Armenia","Ibagué","Manizales A.M","Nacional","Pereira A.M"],"range":["#5b9150","#a9b2da","#2f3466","#f4c463","#7a84e6"]},"legend":null}}},
{"data":{"name":"lab"},"transform":[{"filter":"datum.m === 'TO'"}],"mark":{"type":"text","font":"Liberation Serif","fontSize":8.5,"fontWeight":"bold","color":"#6c9a5e","align":"right","dx":5,"dy":-10},
"encoding":{"x":{"field":"p","type":"ordinal","sort":null},"y":{"field":"v","type":"quantitative"},"text":{"field":"t"}}}
]},
{"width":560,"height":80,"layer":[
{"data":{"name":"d"},"transform":[{"filter":"datum.m === 'TGP'"}],"mark":{"type":"line","strokeWidth":3,"order":false},
"encoding":{"x":{"field":"p","type":"ordinal","sort":null,"scale":{"type":"point","padding":0.42},"axis":{"title":null,"labelAngle":270,"labelFontSize":7.5,"labelPadding":4,"labelColor":"#333333"}},
"y":{"field":"v","type":"quantitative","scale":{"domain":[40,72.5],"nice":false,"zero":false},"axis":{"values":[40,50,60,70],"tickCount":10,"title":"TGP","labelExpr":"replace(format(datum.value,'.1f'),'.',',')+'%'","encode":{"labels":{"update":{"baseline":{"signal":"datum.value === 40 ? 'bottom' : 'middle'"}}}}}},
"color":{"field":"c","type":"nominal","scale":{"domain":["Armenia","Ibagué","Manizales A.M","Nacional","Pereira A.M"],"range":["#5b9150","#a9b2da","#2f3466","#f4c463","#7a84e6"]},"legend":null}}},
{"data":{"name":"lab"},"transform":[{"filter":"datum.m === 'TGP'"}],"mark":{"type":"text","font":"Liberation Serif","fontSize":8.5,"fontWeight":"bold","color":"#6c9a5e","align":"right","dx":5,"dy":-10},
"encoding":{"x":{"field":"p","type":"ordinal","sort":null},"y":{"field":"v","type":"quantitative"},"text":{"field":"t"}}}
]},
{"width":303,"height":24,"view":{"stroke":null},"data":{"name":"leg"},
"encoding":{"x":{"field":"c","type":"nominal","sort":null,"bandPosition":0.058,"scale":{"type":"band","paddingInner":0,"paddingOuter":0},"axis":null},
"y":{"field":"g","type":"nominal","scale":{"type":"point"},"axis":{"title":null,"grid":false,"labelFont":"Liberation Serif","labelFontSize":9,"labelFontWeight":"bold","labelColor":"#333333","labelPadding":6}}},
"layer":[
{"mark":{"type":"square","size":45,"filled":true,"opacity":1},"encoding":{"color":{"field":"c","type":"nominal","scale":{"domain":["Armenia","Ibagué","Manizales A.M","Nacional","Pereira A.M"],"range":["#5b9150","#a9b2da","#2f3466","#f4c463","#7a84e6"]},"legend":null}}},
{"mark":{"type":"text","align":"left","baseline":"middle","dx":6.5,"font":"Liberation Serif","fontSize":7.5,"color":"#333333"},"encoding":{"text":{"field":"c"}}}
]}
],
"spacing":0,
"resolve":{"scale":{"y":"independent","x":"independent"}},
"config":{
"view":{"stroke":"#cdd3d5","strokeWidth":1},
"axis":{"labelFont":"Liberation Serif","labelFontSize":7.5,"labelColor":"#3a3a3a","titleFont":"Liberation Serif","titleFontSize":8,"titleFontWeight":"bold","titleColor":"#333333","ticks":false,"domain":false,"gridColor":"#f2f5f5","gridWidth":1,"labelOverlap":false},
"axisY":{"labelPadding":3,"titlePadding":3}
}
}
